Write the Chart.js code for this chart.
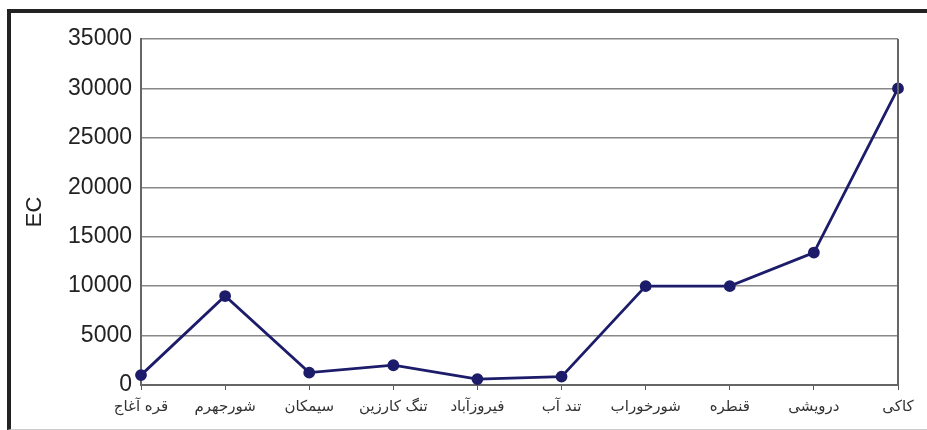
<!DOCTYPE html>
<html>
<head>
<meta charset="utf-8">
<script src="https://cdn.jsdelivr.net/npm/chart.js@4"></script>
<style>
  body { margin: 0; background: #fff; overflow: hidden; }
  #wrap { position: relative; width: 927px; height: 430px; overflow: hidden; }
  #frame {
    position: absolute; left: 7px; top: 9px; width: 960px; height: 416px;
    border-left: 4px solid #222; border-top: 4px solid #222;
    border-bottom: 1px solid #ccc;
  }
  #c { position: absolute; left: 0; top: 0; }
</style>
</head>
<body>
<div id="wrap">
  <div id="frame"></div>
  <canvas id="c" width="927" height="430"></canvas>
</div>
<script>
// ============== DATA ==============
const stations = ["قره آغاج", "شورجهرم", "سیمکان", "تنگ کارزین", "فیروزآباد", "تند آب", "شورخوراب", "قنطره", "درویشی", "کاکی"];
const ecValues = [1000, 9000, 1250, 2000, 600, 850, 10000, 10000, 13400, 30000];
const yTicks = [0, 5000, 10000, 15000, 20000, 25000, 30000, 35000];

// ============== CHART ==============
const framePlot = {
  id: "framePlot",
  afterDraw(chart) {
    const a = chart.chartArea;
    const g = chart.ctx;
    g.save();
    g.strokeStyle = "#666";
    g.lineWidth = 2;
    g.beginPath();
    g.moveTo(a.right, a.top);
    g.lineTo(a.right, a.bottom);
    g.stroke();
    g.restore();
  }
};

new Chart(document.getElementById("c"), {
  type: "line",
  data: {
    labels: stations,
    datasets: [{
      data: ecValues,
      borderColor: "#1c1c6b",
      backgroundColor: "#1c1c6b",
      borderWidth: 2.8,
      pointRadius: 4.5,
      pointHoverRadius: 4.5,
      tension: 0,
      clip: false
    }]
  },
  options: {
    responsive: false,
    animation: false,
    events: [],
    layout: { padding: { top: 39, right: 29, bottom: 0, left: 0 } },
    plugins: { legend: { display: false }, tooltip: { enabled: false } },
    scales: {
      x: {
        offset: false,
        afterFit: (s) => { s.height = 45; },
        grid: { drawOnChartArea: false, drawTicks: true, tickLength: 5, color: "#555", lineWidth: 1 },
        border: { color: "#666", width: 2 },
        ticks: {
          autoSkip: false, maxRotation: 0, padding: 8,
          color: "#333",
          font: { family: "DejaVu Sans", size: 15 }
        }
      },
      y: {
        min: 0, max: 35000,
        afterFit: (s) => { s.width = 141; },
        afterBuildTicks: (s) => { s.ticks = yTicks.map(v => ({ value: v })); },
        grid: { color: "#888", lineWidth: 1.5, drawTicks: false },
        border: { color: "#666", width: 2 },
        ticks: {
          padding: 9,
          color: "#222",
          font: { family: "Liberation Sans", size: 23 },
          callback: (v) => String(v)
        },
        title: {
          display: true, text: "EC", color: "#222",
          padding: { top: 22, bottom: 0 },
          font: { family: "Liberation Sans", size: 22 }
        }
      }
    }
  },
  plugins: [framePlot]
});
</script>
</body>
</html>
